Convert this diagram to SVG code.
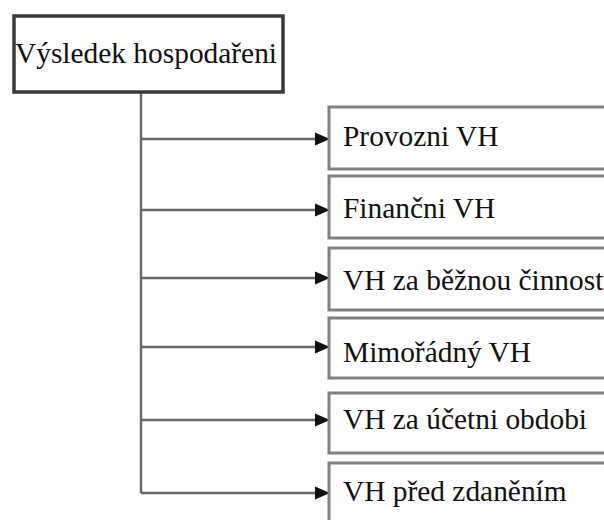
<svg xmlns="http://www.w3.org/2000/svg" width="604" height="520" viewBox="0 0 604 520">
<style>
.bg{fill:#ffffff}
.root{fill:#ffffff;stroke:#3a3a3a;stroke-width:3.5}
.box{fill:#ffffff;stroke:#808080;stroke-width:3}
.lbl{font-family:"Liberation Serif","Times New Roman",serif;font-size:29.4px;fill:#111111}
.ln{fill:none;stroke:#6a6a6a;stroke-width:2.5}
.ah{fill:#111111}
</style>
<rect class="bg" x="0" y="0" width="604" height="520"/>
<g id="connectors">
<path class="ln" d="M141,92 V493"/>
<path class="ln" d="M141,139 H318"/>
<path class="ln" d="M141,210 H318"/>
<path class="ln" d="M141,278 H318"/>
<path class="ln" d="M141,347 H318"/>
<path class="ln" d="M141,420 H318"/>
<path class="ln" d="M141,493 H318"/>
<polygon class="ah" points="315,132.5 330,139 315,145.5"/>
<polygon class="ah" points="315,203.5 330,210 315,216.5"/>
<polygon class="ah" points="315,271.5 330,278 315,284.5"/>
<polygon class="ah" points="315,340.5 330,347 315,353.5"/>
<polygon class="ah" points="315,413.5 330,420 315,426.5"/>
<polygon class="ah" points="315,486.5 330,493 315,499.5"/>
</g>
<g id="node-root">
<rect class="root" x="14" y="16" width="269" height="76"/>
<text class="lbl" x="15" y="63">Výsledek hospodařeni</text>
</g>
<g id="node-provozni">
<rect class="box" x="329" y="107" width="290" height="62"/>
<text class="lbl" x="343" y="146">Provozni VH</text>
</g>
<g id="node-financni">
<rect class="box" x="329" y="176" width="290" height="62"/>
<text class="lbl" x="343" y="218">Finančni VH</text>
</g>
<g id="node-bezna">
<rect class="box" x="329" y="248" width="290" height="62"/>
<text class="lbl" x="343" y="290">VH za běžnou činnost</text>
</g>
<g id="node-mimoradny">
<rect class="box" x="329" y="318" width="290" height="60"/>
<text class="lbl" x="343" y="362">Mimořádný VH</text>
</g>
<g id="node-ucetni">
<rect class="box" x="329" y="393" width="290" height="60"/>
<text class="lbl" x="343" y="429">VH za účetni obdobi</text>
</g>
<g id="node-zdanenim">
<rect class="box" x="329" y="463" width="290" height="62"/>
<text class="lbl" x="343" y="501">VH před zdaněním</text>
</g>
</svg>
